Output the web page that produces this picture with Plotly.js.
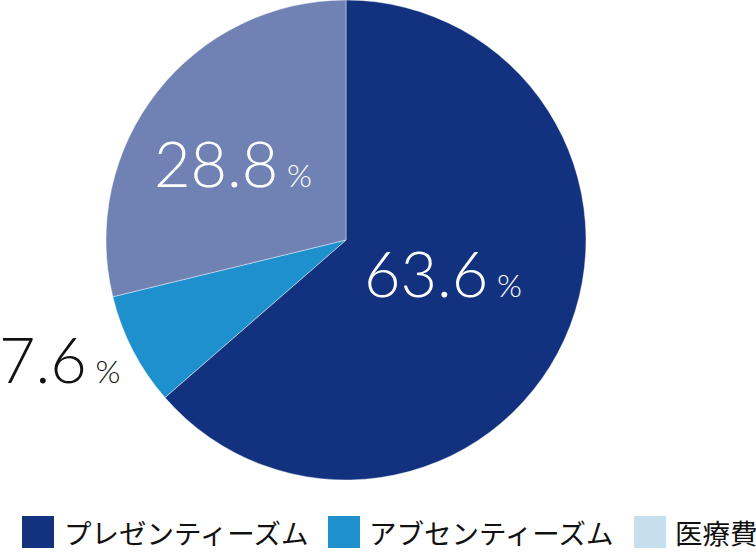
<!DOCTYPE html>
<html>
<head>
<meta charset="utf-8">
<script src="https://cdn.plot.ly/plotly-3.0.1.min.js"></script>
<style>html,body{margin:0;padding:0;background:#fff;}#chart{width:756px;height:552px;}</style>
</head>
<body>
<div id="chart"></div>
<script>
// Data
const categories = ["プレゼンティーズム", "アブセンティーズム", "医療費"];
const values = [63.6, 7.6, 28.8];
const sliceColors = ["#12317F", "#1E90CD", "#6F82B3"];
const legendColors = ["#12317F", "#1E90CD", "#C5DFEE"];
const textColors = ["#ffffff", "#111111", "#ffffff"];

// Label placement style (radius as fraction of pie radius, pixel nudges: right, down)
const labelRadius = [0.44, 1.29, 0.555];
const labelShift = [[1, -11], [-12, -24], [-8, 5]];

const W = 756, H = 552;
const margin = {l: 106, r: 170, t: 0, b: 72};
const plotW = W - margin.l - margin.r, plotH = H - margin.t - margin.b;
const px2x = p => (p - margin.l) / plotW;
const px2y = p => (H - margin.b - p) / plotH;

const trace = {
  type: "pie",
  labels: categories,
  values: values,
  sort: false,
  direction: "clockwise",
  rotation: 0,
  marker: {colors: sliceColors, line: {color: "rgba(255,255,255,0.6)", width: 0.7}},
  textinfo: "none",
  hoverinfo: "label+percent",
  showlegend: false
};

const shapes = [], annotations = [];

// value labels placed along each slice's bisector (angles derived from values)
const total = values.reduce((a, b) => a + b, 0);
const Rpx = Math.min(plotW, plotH) / 2;
let cum = 0;
values.forEach((v, i) => {
  const mid = 2 * Math.PI * (cum + v / 2) / total;
  cum += v;
  const dxRight = labelRadius[i] * Rpx * Math.sin(mid) + labelShift[i][0];
  const dyDown = -labelRadius[i] * Rpx * Math.cos(mid) + labelShift[i][1];
  annotations.push({
    xref: "paper", yref: "paper",
    x: 0.5 + dxRight / plotW, y: 0.5 - dyDown / plotH,
    xanchor: "center", yanchor: "middle", showarrow: false,
    text: v.toFixed(1) + "<span style='font-size:32px'> %</span>",
    font: {family: "Lato, 'Noto Sans', sans-serif", size: 63, weight: 300, color: textColors[i]}
  });
});

// legend
const swatchLeft = [22, 328, 634];
const textLeft = [62, 367, 673];
categories.forEach((c, i) => {
  shapes.push({type: "rect", xref: "paper", yref: "paper",
    x0: px2x(swatchLeft[i]), x1: px2x(swatchLeft[i] + 32),
    y0: px2y(548), y1: px2y(516),
    fillcolor: legendColors[i], line: {width: 0}});
  annotations.push({xref: "paper", yref: "paper", x: px2x(textLeft[i]), y: px2y(532),
    xanchor: "left", yanchor: "middle", showarrow: false, text: c,
    font: {family: "'Noto Sans CJK JP', sans-serif", size: 27.5, color: "#111111"}});
});

const layout = {
  width: W, height: H,
  margin: margin,
  paper_bgcolor: "#ffffff",
  plot_bgcolor: "#ffffff",
  showlegend: false,
  shapes: shapes,
  annotations: annotations
};

Plotly.newPlot("chart", [trace], layout, {displayModeBar: false, staticPlot: true});
</script>
</body>
</html>
